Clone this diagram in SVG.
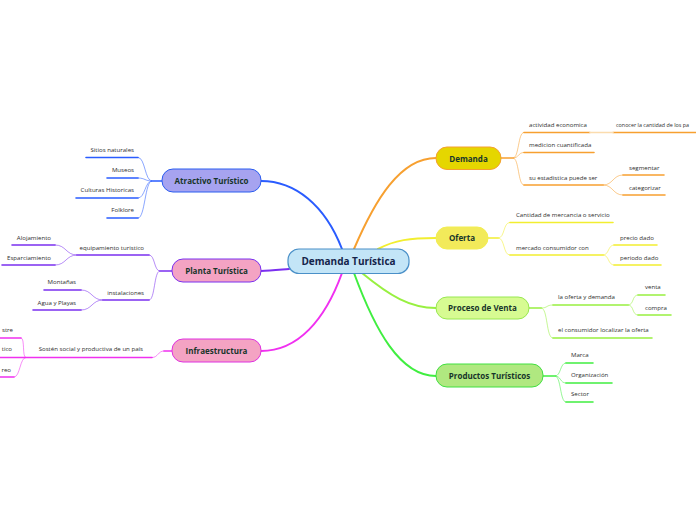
<svg xmlns="http://www.w3.org/2000/svg" width="696" height="520" viewBox="0 0 696 520">
<style>
.bg{fill:#ffffff}
.nt{font-family:"Open Sans","Noto Sans",sans-serif;font-weight:bold;font-size:8px;fill:#17352a;text-anchor:middle}
.ct{font-family:"Open Sans","Noto Sans",sans-serif;font-weight:bold;font-size:10px;fill:#15244a;text-anchor:middle}
.lt{font-family:"Open Sans","Noto Sans",sans-serif;font-size:6.1px;fill:#2e2e2e}
.le{text-anchor:end}
.ul{fill:none;stroke-width:1.6;stroke-linecap:round}
.cv{fill:none;stroke-width:1;opacity:0.55}
.mn{fill:none;stroke-width:2;stroke-linecap:round}
.or{stroke:#f7a030}.ye{stroke:#f2ee30}.li{stroke:#98f040}.gr{stroke:#40ee40}
.bl{stroke:#2a5cff}.pu{stroke:#7b30f0}.ma{stroke:#f030f0}
</style>
<rect class="bg" x="0" y="0" width="696" height="520"/>
<g id="connectors">
<path class="mn bl" d="M342,249 C325,205 295,181 261,181"/>
<path class="mn pu" d="M289,269 C278,270 270,271 261,271"/>
<path class="mn ma" d="M342,273 C325,320 298,351 261,351"/>
<path class="mn or" d="M354,249 C375,200 400,158 436,158"/>
<path class="mn ye" d="M378,249 C395,240 410,238 436,238"/>
<path class="mn li" d="M362,273 C390,296 410,308 436,308"/>
<path class="mn gr" d="M354,273 C375,330 400,376 436,376"/>
<!-- Demanda -->
<path class="ul or" d="M501,158 H513"/>
<path class="cv or" d="M513,158 C519,158 518,132.5 524,132.5 M513,158 C519,158 518,152.5 524,152.5 M513,158 C519,158 518,185 524,185"/>
<path class="ul or" d="M524,132.5 H590 M613,132.5 H696 M524,152.5 H594 M524,185 H603 M623,175 H664 M623,195 H665"/>
<path class="ul" stroke="#fbdcae" d="M590,132.5 H613"/>
<path class="cv or" d="M603,185 C613,185 613,175 623,175 M603,185 C613,185 613,195 623,195"/>
<!-- Oferta -->
<path class="ul ye" d="M488,238 H498"/>
<path class="cv ye" d="M498,238 C505,238 503,222.5 510,222.5 M498,238 C505,238 503,255 510,255"/>
<path class="ul ye" d="M510,222.5 H613 M510,255 H603 M614,245 H657 M614,265 H661"/>
<path class="cv ye" d="M603,255 C609,255 608,245 614,245 M603,255 C609,255 608,265 614,265"/>
<!-- Proceso de Venta -->
<path class="ul li" d="M529,308 H541"/>
<path class="cv li" d="M541,308 C548,308 546,305 553,305 M541,308 C548,308 546,338 553,338"/>
<path class="ul li" d="M553,305 H628 M553,338 H652 M638,295 H665 M638,315 H671"/>
<path class="cv li" d="M628,305 C634,305 632,295 638,295 M628,305 C634,305 632,315 638,315"/>
<!-- Productos -->
<path class="ul gr" d="M543,376 H555"/>
<path class="cv gr" d="M555,376 C561,376 560,363 566,363 M555,376 C561,376 560,383 566,383 M555,376 C561,376 560,402 566,402"/>
<path class="ul gr" d="M566,363 H593 M566,383 H612 M566,402 H593"/>
<!-- Atractivo -->
<path class="ul bl" d="M162,181 H152"/>
<path class="cv bl" d="M152,181 C145,181 145,157.5 138,157.5 M152,181 C145,181 145,178 138,178 M152,181 C145,181 145,198 138,198 M152,181 C145,181 145,218 138,218"/>
<path class="ul bl" d="M86,157.5 H138 M107,178 H138 M76,198 H138 M107,218 H138"/>
<!-- Planta -->
<path class="ul pu" d="M172,271 H160"/>
<path class="cv pu" d="M160,271 C154,271 155,255 149,255 M160,271 C154,271 155,300 149,300"/>
<path class="ul pu" d="M77,255 H149 M103,300 H149 M12,245 H55 M2,265 H55 M44,290 H81 M33,310 H81"/>
<path class="cv pu" d="M77,255 C66,255 66,245 55,245 M77,255 C66,255 66,265 55,265 M103,300 C92,300 92,290 81,290 M103,300 C92,300 92,310 81,310"/>
<!-- Infraestructura -->
<path class="ul ma" d="M172,351 H164"/>
<path class="cv ma" d="M164,351 C158,351 158,357.5 152,357.5"/>
<path class="ul ma" d="M0,357.5 H152 M0,338 H21 M0,377 H14"/>
<path class="cv ma" d="M26,357.5 C22,357.5 25,338 21,338 M26,357.5 C20,357.5 20,377 14,377"/>
</g>
<g id="central">
<rect x="288" y="249" width="121" height="24.5" rx="11" fill="#c3e5f7" stroke="#4a90c8" stroke-width="1.2"/>
<text class="ct" x="348.5" y="264.8">Demanda Turística</text>
</g>
<g id="demanda">
<rect x="436" y="147" width="65" height="22.5" rx="11" fill="#e5d600" stroke="#f5a030" stroke-width="1"/>
<text class="nt" x="468.5" y="161.5">Demanda</text>
<text class="lt" x="529" y="127">actividad economica</text>
<text class="lt" x="616" y="127" style="font-size:5.4px">conocer la cantidad de los pa</text>
<text class="lt" x="529" y="146.5">medicion cuantificada</text>
<text class="lt" x="529" y="180">su estadistica  puede ser</text>
<text class="lt" x="629" y="170">segmentar</text>
<text class="lt" x="629" y="190">categorizar</text>
</g>
<g id="oferta">
<rect x="436" y="227" width="52" height="22" rx="11" fill="#f2ea5a" stroke="#f2ee50" stroke-width="1"/>
<text class="nt" x="462" y="241">Oferta</text>
<text class="lt" x="516" y="217">Cantidad de mercancia o servicio</text>
<text class="lt" x="516" y="250">mercado consumidor con</text>
<text class="lt" x="620" y="240">precio dado</text>
<text class="lt" x="620" y="260">periodo dado</text>
</g>
<g id="proceso">
<rect x="436" y="297" width="93" height="22" rx="11" fill="#d7fb92" stroke="#98e850" stroke-width="1"/>
<text class="nt" x="482.5" y="311">Proceso de Venta</text>
<text class="lt" x="558" y="299">la oferta y demanda</text>
<text class="lt" x="645" y="289">venta</text>
<text class="lt" x="645" y="310">compra</text>
<text class="lt" x="558" y="332">el consumidor localizar la oferta</text>
</g>
<g id="productos">
<rect x="436" y="364" width="107" height="23" rx="11" fill="#b0e880" stroke="#40e040" stroke-width="1"/>
<text class="nt" x="489.5" y="378.5">Productos Turísticos</text>
<text class="lt" x="571" y="357">Marca</text>
<text class="lt" x="571" y="377">Organización</text>
<text class="lt" x="571" y="396">Sector</text>
</g>
<g id="atractivo">
<rect x="162" y="169" width="99" height="23" rx="11" fill="#a6a3f0" stroke="#2a5cf0" stroke-width="1"/>
<text class="nt" x="211.5" y="183.5">Atractivo Turístico</text>
<text class="lt le" x="134" y="152">Sitios naturales</text>
<text class="lt le" x="134" y="172">Museos</text>
<text class="lt le" x="134" y="192">Culturas Historicas</text>
<text class="lt le" x="134" y="212">Folklore</text>
</g>
<g id="planta">
<rect x="172" y="259" width="89" height="23" rx="11" fill="#f4a3c3" stroke="#7b30f0" stroke-width="1"/>
<text class="nt" x="216.5" y="273.5">Planta Turística</text>
<text class="lt le" x="144" y="250">equipamiento turistico</text>
<text class="lt le" x="51" y="240">Alojamiento</text>
<text class="lt le" x="51" y="260">Esparciamiento</text>
<text class="lt le" x="144" y="295">instalaciones</text>
<text class="lt le" x="76" y="284">Montañas</text>
<text class="lt le" x="76" y="305">Agua y Playas</text>
</g>
<g id="infraestructura">
<rect x="172" y="339" width="89" height="23" rx="11" fill="#f4a3c3" stroke="#e030e0" stroke-width="1"/>
<text class="nt" x="216.5" y="353.5">Infraestructura</text>
<text class="lt le" x="143" y="351">Sostén social y productiva de un país</text>
<text class="lt le" x="13" y="332">stre</text>
<text class="lt le" x="12" y="351">tico</text>
<text class="lt le" x="11" y="372">reo</text>
</g>
</svg>
